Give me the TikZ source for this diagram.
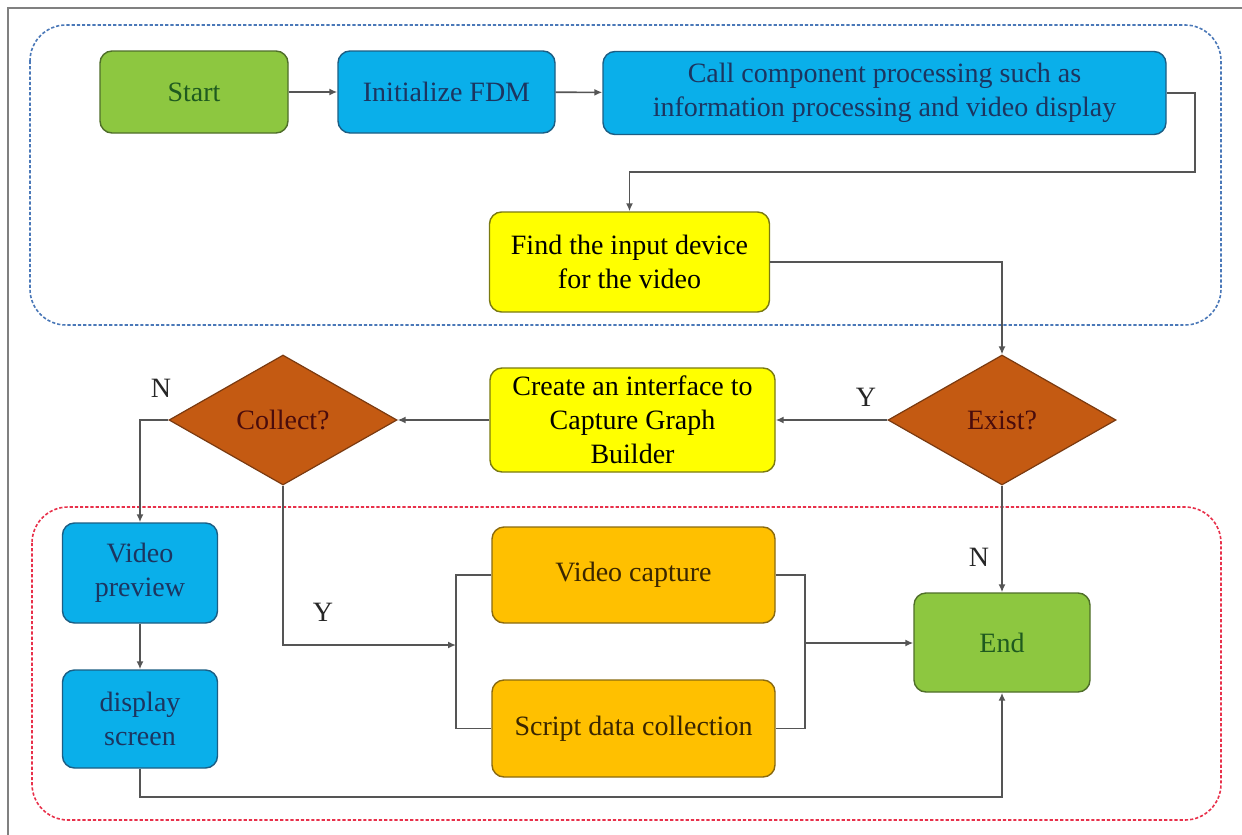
\documentclass[tikz,border=0pt]{standalone}
\usepackage{fontspec}
\setmainfont{Liberation Serif}
\usetikzlibrary{shapes.geometric,arrows.meta}
\definecolor{gfill}{HTML}{8DC740}
\definecolor{gdraw}{HTML}{4F6E2A}
\definecolor{gtext}{HTML}{1F5A1F}
\definecolor{bfill}{HTML}{0AAFEA}
\definecolor{bdraw}{HTML}{1C5E84}
\definecolor{btext}{HTML}{1C3560}
\definecolor{yfill}{HTML}{FFFF00}
\definecolor{ydraw}{HTML}{7A7A10}
\definecolor{dfill}{HTML}{C45A12}
\definecolor{ddraw}{HTML}{7A3A10}
\definecolor{dtext}{HTML}{4A0C0C}
\definecolor{ofill}{HTML}{FFC000}
\definecolor{odraw}{HTML}{8A6A10}
\definecolor{otext}{HTML}{3A2600}
\definecolor{linec}{HTML}{555555}
\definecolor{bluedash}{HTML}{4A78B8}
\definecolor{reddash}{HTML}{E8304A}
\begin{document}
\begin{tikzpicture}[x=0.5pt,y=-0.5pt,
  box/.style={rectangle, rounded corners=6pt, draw, line width=0.7pt, align=center,
    inner sep=2pt, font=\fontsize{14}{17}\selectfont},
  greenbox/.style={box, fill=gfill, draw=gdraw, text=gtext},
  bluebox/.style={box, fill=bfill, draw=bdraw, text=btext},
  yellowbox/.style={box, fill=yfill, draw=ydraw, text=black},
  orangebox/.style={box, fill=ofill, draw=odraw, text=otext},
  decision/.style={diamond, draw=ddraw, fill=dfill, text=dtext, line width=0.6pt,
    inner sep=0pt, minimum width=114pt, minimum height=65pt, font=\fontsize{14}{17}\selectfont},
  conn/.style={draw=linec, line width=0.8pt},
  arr/.style={conn, -{Latex[length=4pt,width=3.5pt]}},
  lbl/.style={font=\fontsize{14}{17}\selectfont, text=black!85, inner sep=0pt},
  region/.style={line width=0.8pt, dash pattern=on 1.6pt off 1pt, rounded corners=18pt}
]
\useasboundingbox (0,0) rectangle (1242,835);
\fill[white] (0,0) rectangle (1242,835);
% outer frame
\draw[gray, line width=1pt] (8,840) -- (8,8) -- (1250,8);
% regions
\draw[region, draw=bluedash] (30,25) rectangle (1221,325);
\draw[region, draw=reddash] (32,507) rectangle (1221,820);

% nodes
\node[greenbox, minimum width=94pt, minimum height=41pt] (start) at (194,92) {Start};
\node[bluebox, minimum width=108.5pt, minimum height=41pt] (init) at (446.5,92) {Initialize FDM};
\node[bluebox, minimum width=281.5pt, minimum height=41.5pt] (call) at (884.5,93)
  {Call component processing such as\\information processing and video display};
\node[yellowbox, minimum width=140pt, minimum height=50pt] (find) at (629.5,262)
  {Find the input device\\for the video};
\node[yellowbox, minimum width=142.5pt, minimum height=52pt] (create) at (632.5,420)
  {Create an interface to\\Capture Graph\\Builder};
\node[decision] (exist) at (1002,420) {Exist?};
\node[decision] (collect) at (283,420) {Collect?};
\node[bluebox, minimum width=77.5pt, minimum height=50pt] (vprev) at (140,573) {Video\\preview};
\node[bluebox, minimum width=77.5pt, minimum height=49pt] (dscreen) at (140,719) {display\\screen};
\node[orangebox, minimum width=141.5pt, minimum height=48pt] (vcap) at (633.5,575) {Video capture};
\node[orangebox, minimum width=141.5pt, minimum height=48.5pt] (script) at (633.5,728.5) {Script data collection};
\node[greenbox, minimum width=88pt, minimum height=49.5pt] (endn) at (1002,642.5) {End};

% labels
\node[lbl] (ly1) at (866,397) {Y};
\node[lbl] (ln1) at (161,388) {N};
\node[lbl] (ly2) at (323,612) {Y};
\node[lbl] (ln2) at (979,557) {N};

% helper coordinates
\coordinate (c1) at (1195,172);
\coordinate (j) at (456,645);
\coordinate (k) at (805,643);
\coordinate (b) at (1002,797);

% connectors
\draw[arr] (start) -- (init);
\draw[arr] (init) -- (call);
\draw[arr] (call.east) -| (c1) -| (find.north);
\draw[arr] (find.east) -| (exist.north);
\draw[arr] (exist.west) -- (create.east);
\draw[arr] (create.west) -- (collect.east);
\draw[arr] (collect.west) -| (vprev.north);
\draw[arr] (vprev.south) -- (dscreen.north);
\draw[arr] (collect.south) |- (j);
\draw[conn] (vcap.west) -| (j) |- (script.west);
\draw[conn] (vcap.east) -| (k) |- (script.east);
\draw[arr] (k) -- (k -| endn.west);
\draw[arr] (exist.south) -- (endn.north);
\draw[arr] (dscreen.south) |- (b) -- (endn.south);
\end{tikzpicture}
\end{document}
